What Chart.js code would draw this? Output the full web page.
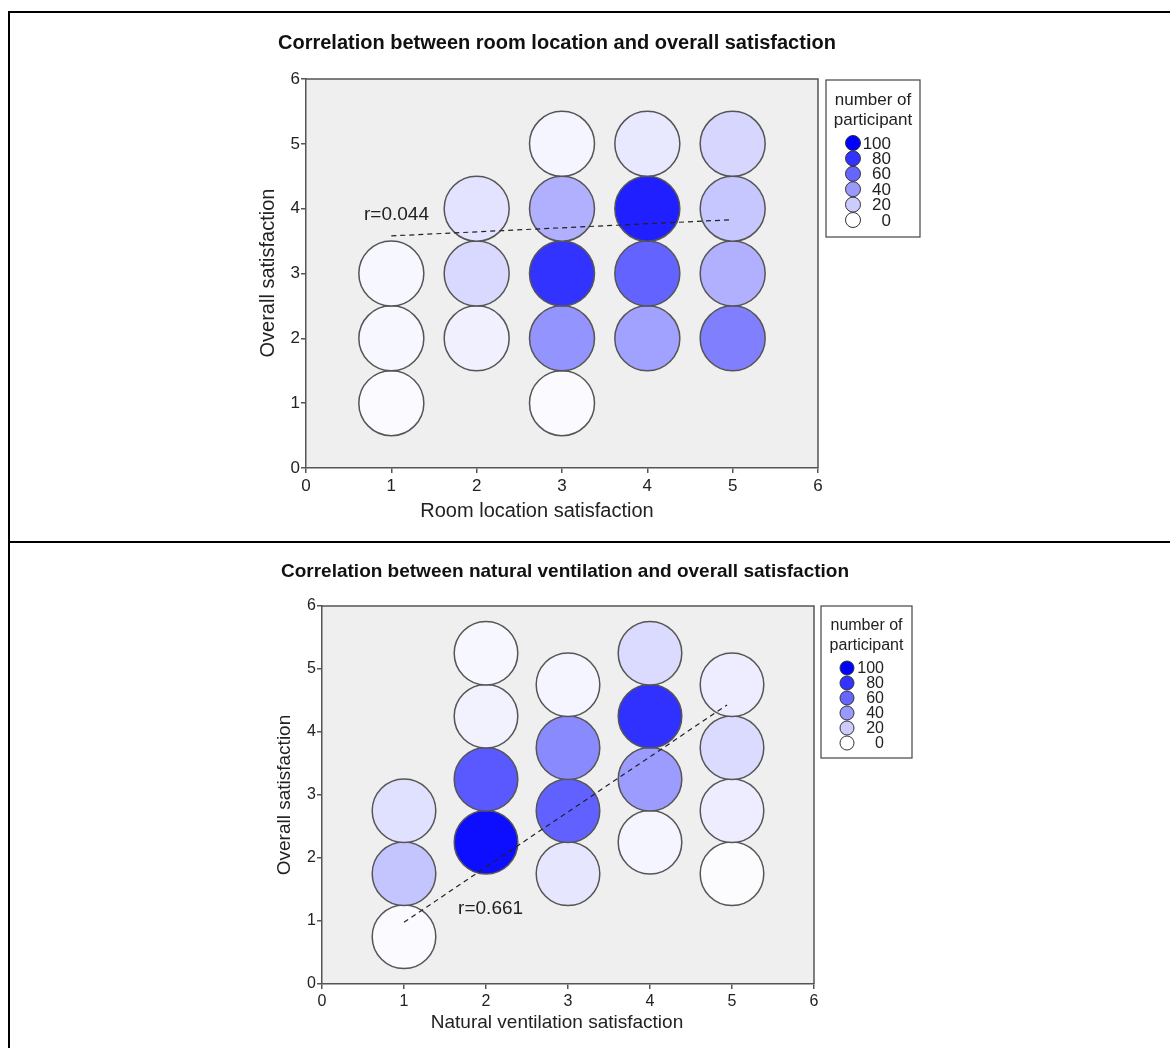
<!DOCTYPE html>
<html>
<head>
<meta charset="utf-8">
<script src="https://cdn.jsdelivr.net/npm/chart.js@4.4.1/dist/chart.umd.min.js"></script>
<style>
  html, body { margin: 0; padding: 0; background: #fff; }
  #page { position: relative; width: 1170px; height: 1048px; overflow: hidden; }
  #page canvas { position: absolute; left: 0; }
  .rule { position: absolute; background: #000; }
</style>
</head>
<body>
<div id="page">
  <canvas id="roomChart" width="1170" height="540" style="top:0px"></canvas>
  <canvas id="ventChart" width="1170" height="504" style="top:544px"></canvas>
  <div class="rule" style="left:8px;top:11px;width:1162px;height:2px"></div>
  <div class="rule" style="left:8px;top:11px;width:2px;height:1037px"></div>
  <div class="rule" style="left:8px;top:541px;width:1162px;height:2px"></div>
</div>
<script>
const FONT = '"Liberation Sans", Arial, Helvetica, sans-serif';

// ---- Room location vs overall satisfaction ----
const roomX     = [1, 1, 1,  2, 2, 2,  3, 3, 3, 3, 3,  4, 4, 4, 4,  5, 5, 5, 5];
const roomY     = [1, 2, 3,  2, 3, 4,  1, 2, 3, 4, 5,  2, 3, 4, 5,  2, 3, 4, 5];
const roomCount = [2, 3, 3,  6, 15, 11, 2, 42, 80, 31, 4, 37, 61, 88, 9, 50, 31, 22, 16];
const roomFitX  = [1, 5];
const roomFitY  = [3.58, 3.83];
const roomR     = 'r=0.044';

// ---- Natural ventilation vs overall satisfaction ----
const ventX     = [1, 1, 1,  2, 2, 2, 2,  3, 3, 3, 3,  4, 4, 4, 4,  5, 5, 5, 5];
const ventY     = [0.75, 1.75, 2.75,  2.25, 3.25, 4.25, 5.25,  1.75, 2.75, 3.75, 4.75,
                   2.25, 3.25, 4.25, 5.25,  1.75, 2.75, 3.75, 4.75];
const ventCount = [2, 23, 12,  95, 65, 5, 3,  10, 62, 46, 4,  4, 39, 81, 14,  1, 7, 14, 7];
const ventFitX  = [1, 4.94];
const ventFitY  = [0.98, 4.43];
const ventR     = 'r=0.661';

// shared
const legendSteps = [100, 80, 60, 40, 20, 0];
const legendHead  = ['number of', 'participant'];

// white -> pure blue as the participant count rises to 100
function shade(n) {
  const c = Math.round(255 - 2.55 * n);
  return `rgb(${c},${c},255)`;
}

const panelDecor = {
  id: 'panelDecor',
  beforeDraw(chart) {
    const { ctx, chartArea: a } = chart;
    ctx.save();
    ctx.fillStyle = '#efefef';
    ctx.fillRect(a.left, a.top, a.right - a.left, a.bottom - a.top);
    ctx.restore();
  },
  beforeDatasetsDraw(chart) {
    const { ctx, chartArea: a } = chart;
    ctx.save();
    ctx.strokeStyle = '#555';
    ctx.lineWidth = 1.5;
    ctx.beginPath();
    ctx.moveTo(a.left, a.top);
    ctx.lineTo(a.right, a.top);
    ctx.lineTo(a.right, a.bottom);
    ctx.stroke();
    ctx.restore();
  },
  afterDraw(chart, args, o) {
    const { ctx } = chart;
    const xs = chart.scales.x, ys = chart.scales.y;
    ctx.save();
    ctx.fillStyle = '#111';
    ctx.textBaseline = 'middle';

    // title
    ctx.font = `bold ${o.titleSize}px ${FONT}`;
    ctx.textAlign = 'left';
    ctx.fillText(o.title, o.titleX, o.titleY);

    // axis titles
    ctx.fillStyle = '#222';
    ctx.font = `${o.axisTitleSize}px ${FONT}`;
    ctx.textAlign = 'center';
    ctx.fillText(o.xTitle, o.xTitleX, o.xTitleY);
    ctx.save();
    ctx.translate(o.yTitleX, o.yTitleY);
    ctx.rotate(-Math.PI / 2);
    ctx.fillText(o.yTitle, 0, 0);
    ctx.restore();

    // correlation note
    ctx.font = `${o.rSize}px ${FONT}`;
    ctx.textAlign = 'left';
    ctx.fillText(o.rText, xs.getPixelForValue(o.rAt[0]), ys.getPixelForValue(o.rAt[1]));

    // colour key
    const L = o.legend;
    ctx.strokeStyle = '#444';
    ctx.lineWidth = 1.2;
    ctx.fillStyle = '#fff';
    ctx.fillRect(L.left, L.top, L.w, L.h);
    ctx.strokeRect(L.left, L.top, L.w, L.h);
    ctx.fillStyle = '#222';
    ctx.font = `${L.headSize}px ${FONT}`;
    ctx.textAlign = 'center';
    legendHead.forEach((t, i) => ctx.fillText(t, L.left + L.w / 2, L.top + L.head[i]));
    ctx.font = `${L.numSize}px ${FONT}`;
    ctx.textAlign = 'right';
    legendSteps.forEach((v, i) => {
      const cy = L.top + L.first + i * L.step;
      ctx.beginPath();
      ctx.arc(L.left + L.dotX, cy, L.dotR, 0, Math.PI * 2);
      ctx.fillStyle = shade(v);
      ctx.fill();
      ctx.strokeStyle = '#333';
      ctx.lineWidth = 1;
      ctx.stroke();
      ctx.fillStyle = '#222';
      ctx.fillText(String(v), L.left + L.numX, cy + 1);
    });
    ctx.restore();
  }
};

function axis(size, horizontal) {
  return {
    type: 'linear', min: 0, max: 6,
    ticks: {
      stepSize: 1, color: '#222', autoSkip: false, maxRotation: 0,
      padding: horizontal ? 3 : 1,
      font: { family: FONT, size: size }
    },
    grid: { display: true, drawOnChartArea: false, drawTicks: true, tickLength: 5, color: '#555', lineWidth: 1.5 },
    border: { display: true, color: '#555', width: 1.5 },
    afterFit(s) { if (horizontal) s.height = 40; else s.width = 50; }
  };
}

function makeChart(id, xs, ys, counts, fitX, fitY, radius, tickSize, padding, decor) {
  return new Chart(document.getElementById(id), {
    type: 'bubble',
    data: {
      datasets: [
        {
          type: 'line',
          data: fitX.map((x, i) => ({ x: x, y: fitY[i] })),
          borderColor: '#222', borderWidth: 1.2, borderDash: [5, 4],
          pointRadius: 0, fill: false, order: 0
        },
        {
          type: 'bubble',
          data: xs.map((x, i) => ({ x: x, y: ys[i] })),
          backgroundColor: counts.map(shade),
          borderColor: '#555', borderWidth: 1.5,
          radius: radius, order: 1, clip: false
        }
      ]
    },
    options: {
      responsive: false, animation: false, events: [],
      layout: { padding: padding },
      scales: { x: axis(tickSize, true), y: axis(tickSize, false) },
      plugins: { legend: { display: false }, tooltip: { enabled: false }, panelDecor: decor }
    },
    plugins: [panelDecor]
  });
}

makeChart('roomChart', roomX, roomY, roomCount, roomFitX, roomFitY, 32.5, 17,
  { left: 256, right: 352, top: 79, bottom: 32 },
  {
    title: 'Correlation between room location and overall satisfaction',
    titleSize: 20, titleX: 278, titleY: 43,
    xTitle: 'Room location satisfaction', xTitleX: 537, xTitleY: 511,
    yTitle: 'Overall satisfaction', yTitleX: 268, yTitleY: 273,
    axisTitleSize: 20,
    rText: roomR, rAt: [0.68, 3.9], rSize: 19,
    legend: { left: 826, top: 80, w: 94, h: 157, head: [20, 40], headSize: 17,
              first: 63, step: 15.4, dotX: 27, dotR: 7.5, numX: 65, numSize: 17 }
  });

makeChart('ventChart', ventX, ventY, ventCount, ventFitX, ventFitY, 31.8, 16,
  { left: 272, right: 356, top: 62, bottom: 24 },
  {
    title: 'Correlation between natural ventilation and overall satisfaction',
    titleSize: 19, titleX: 281, titleY: 28,
    xTitle: 'Natural ventilation satisfaction', xTitleX: 557, xTitleY: 479,
    yTitle: 'Overall satisfaction', yTitleX: 285, yTitleY: 251,
    axisTitleSize: 19,
    rText: ventR, rAt: [1.66, 1.19], rSize: 19,
    legend: { left: 821, top: 62, w: 91, h: 152, head: [20, 40], headSize: 16,
              first: 62, step: 15, dotX: 26, dotR: 7, numX: 63, numSize: 16 }
  });
</script>
</body>
</html>
